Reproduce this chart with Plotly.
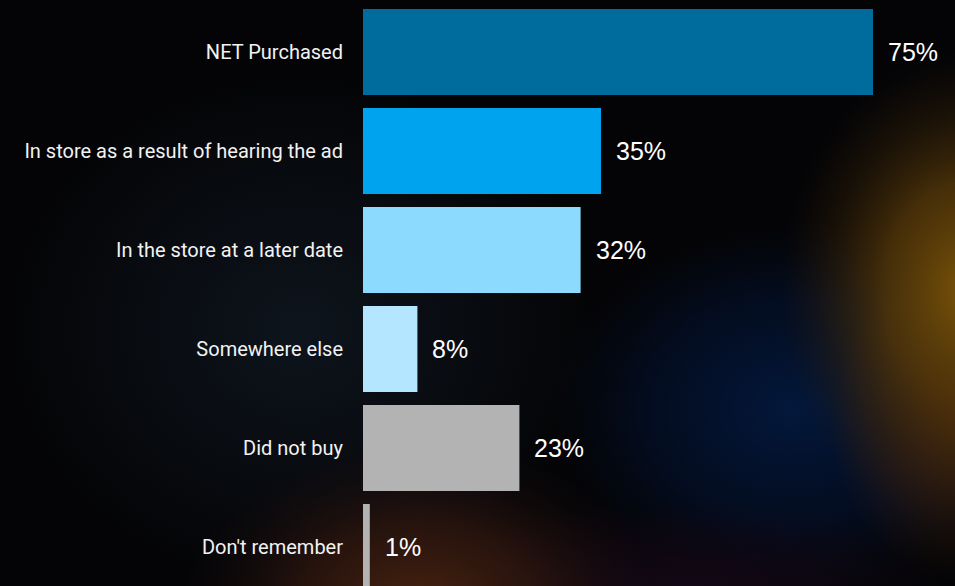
import base64
import plotly.graph_objects as go

# Survey results: where respondents purchased after hearing the ad
categories = [
    "NET Purchased",
    "In store as a result of hearing the ad",
    "In the store at a later date",
    "Somewhere else",
    "Did not buy",
    "Don't remember",
]
values = [75, 35, 32, 8, 23, 1]
bar_colors = ["#006C9E", "#00A3EE", "#8DDAFF", "#B4E6FF", "#B3B3B3", "#B3B3B3"]

W, H = 955, 586

# Dark backdrop with soft coloured glows, drawn as an SVG behind the plot
bg_svg = f"""<svg xmlns='http://www.w3.org/2000/svg' width='{W}' height='{H}' viewBox='0 0 {W} {H}'>
<defs>
<radialGradient id='haze'><stop offset='0' stop-color='#111a24' stop-opacity='0.75'/><stop offset='1' stop-color='#111a24' stop-opacity='0'/></radialGradient>
<radialGradient id='amber'><stop offset='0' stop-color='#7a5408' stop-opacity='1'/><stop offset='0.45' stop-color='#553809' stop-opacity='0.8'/><stop offset='1' stop-color='#2a1a08' stop-opacity='0'/></radialGradient>
<radialGradient id='ember'><stop offset='0' stop-color='#44230f' stop-opacity='0.9'/><stop offset='1' stop-color='#44230f' stop-opacity='0'/></radialGradient>
<radialGradient id='blue'><stop offset='0' stop-color='#03183c' stop-opacity='1'/><stop offset='0.6' stop-color='#031230' stop-opacity='0.6'/><stop offset='1' stop-color='#020c20' stop-opacity='0'/></radialGradient>
<radialGradient id='rust'><stop offset='0' stop-color='#4a2410' stop-opacity='1'/><stop offset='0.5' stop-color='#32180f' stop-opacity='0.75'/><stop offset='1' stop-color='#1a0c10' stop-opacity='0'/></radialGradient>
<radialGradient id='plum'><stop offset='0' stop-color='#160818' stop-opacity='0.9'/><stop offset='1' stop-color='#160818' stop-opacity='0'/></radialGradient>
</defs>
<rect width='{W}' height='{H}' fill='#040406'/>
<ellipse cx='300' cy='330' rx='300' ry='260' fill='url(#haze)'/>
<ellipse cx='790' cy='410' rx='240' ry='190' fill='url(#blue)'/>
<ellipse cx='690' cy='590' rx='260' ry='90' fill='url(#plum)'/>
<ellipse cx='420' cy='610' rx='240' ry='170' fill='url(#rust)'/>
<ellipse cx='960' cy='420' rx='130' ry='160' fill='url(#ember)'/>
<ellipse cx='970' cy='290' rx='190' ry='240' fill='url(#amber)'/>
</svg>"""
bg_uri = "data:image/svg+xml;base64," + base64.b64encode(bg_svg.encode()).decode()

fig = go.Figure(
    go.Bar(
        x=values,
        y=categories,
        orientation="h",
        marker=dict(color=bar_colors, line=dict(width=0)),
        hoverinfo="skip",
    )
)

# Percentage labels just past the end of each bar
for cat, val in zip(categories, values):
    fig.add_annotation(
        x=val, y=cat, xref="x", yref="y",
        text=f"{val}%", showarrow=False,
        xanchor="left", yanchor="middle", xshift=13,
        font=dict(family="Liberation Sans, Arial, sans-serif", size=25, color="#ffffff"),
    )

n = len(categories)
fig.update_layout(
    width=W, height=H,
    margin=dict(l=0, r=0, t=0, b=0),
    paper_bgcolor="#040406",
    plot_bgcolor="rgba(0,0,0,0)",
    bargap=0.131,
    showlegend=False,
    images=[dict(
        source=bg_uri, xref="paper", yref="paper",
        x=0, y=1, sizex=1, sizey=1, xanchor="left", yanchor="top",
        sizing="stretch", layer="below",
    )],
    xaxis=dict(
        domain=[363 / W, 1], range=[0, 592 / 6.8],
        visible=False, fixedrange=True,
    ),
    yaxis=dict(
        type="category", categoryorder="array", categoryarray=categories,
        range=[n - 1 + 39 / 99, -52 / 99],
        showgrid=False, zeroline=False, showline=False, ticks="",
        ticklabelstandoff=19,
        tickfont=dict(family="Roboto, sans-serif", size=20, color="#f2f2f2"),
        fixedrange=True,
    ),
)

fig.write_html("out.html")
